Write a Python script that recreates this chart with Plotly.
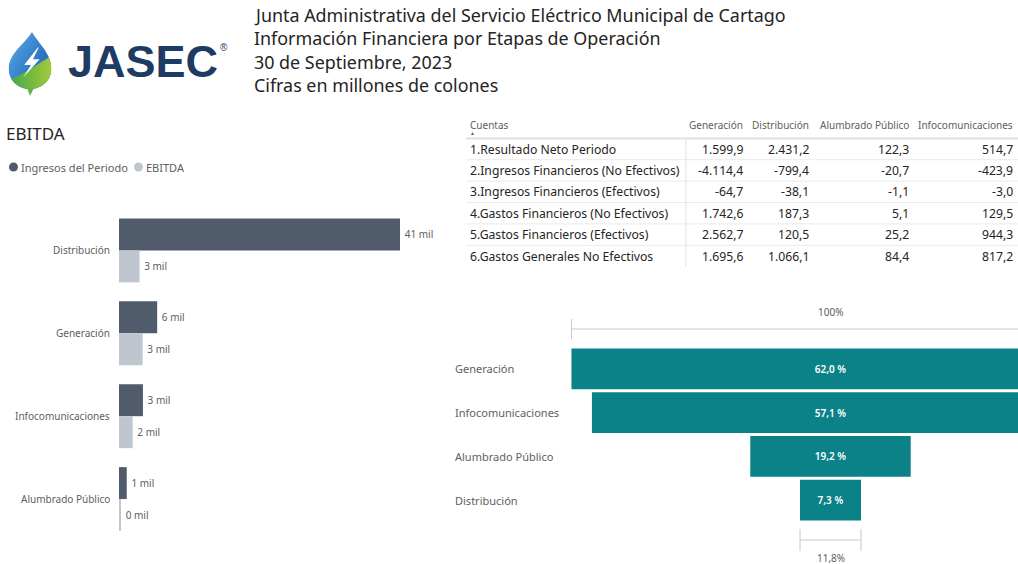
import base64
import plotly.graph_objects as go

W, H = 1018, 564

# ---------------- data (millones de colones) ----------------
segmentos = ["Distribución", "Generación", "Infocomunicaciones", "Alumbrado Público"]
ingresos_periodo = [40650, 5520, 3465, 1120]
ebitda = [2967.6, 3421.7, 1978.8, 215.2]

etapas_funnel = ["Generación", "Infocomunicaciones", "Alumbrado Público", "Distribución"]
margen_ebitda = [62.0, 57.1, 19.2, 7.3]

cuentas = [
    "1.Resultado Neto Periodo",
    "2.Ingresos Financieros (No Efectivos)",
    "3.Ingresos Financieros (Efectivos)",
    "4.Gastos Financieros (No Efectivos)",
    "5.Gastos Financieros (Efectivos)",
    "6.Gastos Generales No Efectivos",
]
columnas_tabla = ["Generación", "Distribución", "Alumbrado Público", "Infocomunicaciones"]
tabla_generacion = [1599.9, -4114.4, -64.7, 1742.6, 2562.7, 1695.6]
tabla_distribucion = [2431.2, -799.4, -38.1, 187.3, 120.5, 1066.1]
tabla_alumbrado = [122.3, -20.7, -1.1, 5.1, 25.2, 84.4]
tabla_infocom = [514.7, -423.9, -3.0, 129.5, 944.3, 817.2]

titulo = [
    "Junta Administrativa del Servicio Eléctrico Municipal de Cartago",
    "Información Financiera por Etapas de Operación",
    "30 de Septiembre, 2023",
    "Cifras en millones de colones",
]

# ---------------- styling ----------------
FONT = "Noto Sans, Open Sans, sans-serif"
DARK = "#505c6b"
LIGHT = "#c0c6cf"
TEAL = "#0a8288"
TXT = "#252423"
GRAY = "#605e5c"
RULE = "#c8c8c8"


def px(x):
    return x / W


def py(y):
    return 1 - y / H


def fmt_es(v):
    s = f"{v:,.1f}"
    return s.replace(",", "_").replace(".", ",").replace("_", ".")


def fmt_mil(v):
    return f"\u2009{round(v / 1000):.0f} mil"


fig = go.Figure()

# ---------------- EBITDA grouped bars ----------------
fig.add_trace(go.Bar(
    y=segmentos, x=ingresos_periodo, orientation="h", name="Ingresos del Periodo",
    marker=dict(color=DARK, line=dict(width=0)),
    text=[fmt_mil(v) for v in ingresos_periodo], textposition="outside",
    textfont=dict(family=FONT, size=10, color=GRAY), cliponaxis=False,
    xaxis="x", yaxis="y", showlegend=False, hoverinfo="skip",
))
fig.add_trace(go.Bar(
    y=segmentos, x=ebitda, orientation="h", name="EBITDA",
    marker=dict(color=LIGHT, line=dict(width=0)),
    text=[fmt_mil(v) for v in ebitda], textposition="outside",
    textfont=dict(family=FONT, size=10, color=GRAY), cliponaxis=False,
    xaxis="x", yaxis="y", showlegend=False, hoverinfo="skip",
))

# ---------------- funnel ----------------
fig.add_trace(go.Funnel(
    y=etapas_funnel, x=margen_ebitda, xaxis="x2", yaxis="y2",
    marker=dict(color=TEAL, line=dict(width=0)),
    texttemplate="%{x:.1f} %", textposition="inside", insidetextanchor="middle",
    textfont=dict(family=FONT, size=10, color="white", weight=600),
    connector=dict(visible=False), showlegend=False, hoverinfo="skip",
))

FUN_LEFT, FUN_CENTER, PX_PER_PCT = 566, 830.5, 61 / 7.3

annotations = []
shapes = []

# category labels for bars (right aligned)
for s in segmentos:
    annotations.append(dict(x=px(112), xref="paper", y=s, yref="y", text=s,
                            xanchor="right", yanchor="middle", showarrow=False,
                            font=dict(family=FONT, size=10, color=GRAY)))
# category labels for funnel (left aligned)
for s in etapas_funnel:
    annotations.append(dict(x=px(453), xref="paper", y=s, yref="y2", text=s,
                            xanchor="left", yanchor="middle", showarrow=False,
                            font=dict(family=FONT, size=11, color=GRAY)))

# funnel brackets: first stage = 100%, last stage relative to first
half_first = margen_ebitda[0] / 2
half_last = margen_ebitda[-1] / 2
shapes += [
    dict(type="line", xref="x2", yref="paper", x0=-half_first, x1=half_first,
         y0=py(329), y1=py(329), line=dict(color=RULE, width=1)),
    dict(type="line", xref="x2", yref="paper", x0=-half_first, x1=-half_first,
         y0=py(319), y1=py(339), line=dict(color=RULE, width=1)),
    dict(type="line", xref="x2", yref="paper", x0=-half_last, x1=half_last,
         y0=py(540), y1=py(540), line=dict(color=RULE, width=1)),
    dict(type="line", xref="x2", yref="paper", x0=-half_last, x1=-half_last,
         y0=py(529), y1=py(551), line=dict(color=RULE, width=1)),
    dict(type="line", xref="x2", yref="paper", x0=half_last, x1=half_last,
         y0=py(529), y1=py(551), line=dict(color=RULE, width=1)),
]
annotations.append(dict(x=0, xref="x2", y=py(312), yref="paper", text="100%",
                        showarrow=False, xanchor="center", yanchor="middle",
                        font=dict(family=FONT, size=10, color=GRAY)))
ratio = margen_ebitda[-1] / margen_ebitda[0] * 100
annotations.append(dict(x=0, xref="x2", y=py(558), yref="paper",
                        text=f"{ratio:.1f}%".replace(".", ","),
                        showarrow=False, xanchor="center", yanchor="middle",
                        font=dict(family=FONT, size=10, color=GRAY)))

# ---------------- header: logo + titles ----------------
logo_svg = """<svg xmlns='http://www.w3.org/2000/svg' viewBox='0 0 46 70'>
<defs>
<linearGradient id='b' x1='0' y1='0' x2='1' y2='1'>
<stop offset='0' stop-color='#5fb0ea'/><stop offset='0.6' stop-color='#2a74c0'/><stop offset='1' stop-color='#1b5aa5'/></linearGradient>
<linearGradient id='g' x1='0' y1='0' x2='1' y2='0'>
<stop offset='0' stop-color='#3fa34d'/><stop offset='1' stop-color='#a4cc3a'/></linearGradient>
<clipPath id='d'><path d='M25 2 C31 13 45 24 45 40 C45 52 35 61 23 61 C11 61 1 52 1 40 C1 24 19 13 25 2 Z'/></clipPath>
</defs>
<g clip-path='url(#d)'>
<rect width='46' height='70' fill='url(#b)'/>
<path d='M0 52 C15 46 30 36 46 26 L46 70 L0 70 Z' fill='url(#g)'/>
</g>
<path d='M20 60 L23 68 L27 60 Z' fill='#6ab04c'/>
<path d='M31 18 L17 36 L24 36 L16 49 L33 30 L26 30 L32 18 Z' fill='white'/>
</svg>"""
logo_uri = "data:image/svg+xml;base64," + base64.b64encode(logo_svg.encode()).decode()

images = [dict(source=logo_uri, xref="paper", yref="paper", x=px(7), y=py(30),
               sizex=px(53) - px(7), sizey=68 / H, xanchor="left", yanchor="top",
               sizing="contain", layer="above")]

annotations.append(dict(x=px(66), y=py(61), xref="paper", yref="paper",
                        text="<b>JASEC</b>", showarrow=False, xanchor="left", yanchor="middle",
                        font=dict(family="Liberation Sans, Arial, sans-serif", size=45, color="#1d3b63")))
annotations.append(dict(x=px(218), y=py(47), xref="paper", yref="paper",
                        text="®", showarrow=False, xanchor="left", yanchor="middle",
                        font=dict(family="Liberation Sans, Arial, sans-serif", size=10, color="#1d3b63")))

for i, line in enumerate(titulo):
    annotations.append(dict(x=px(251.5), y=py(15 + i * 23.4), xref="paper", yref="paper",
                            text=line, showarrow=False, xanchor="left", yanchor="middle",
                            font=dict(family=FONT, size=17.9, color=TXT)))

annotations.append(dict(x=px(4), y=py(133), xref="paper", yref="paper", text="EBITDA",
                        showarrow=False, xanchor="left", yanchor="middle",
                        font=dict(family=FONT, size=17, color=TXT)))

# legend: colored dots + series names
legend_items = [("Ingresos del Periodo", DARK, 13.5), ("EBITDA", LIGHT, 138.5)]
for name, color, cx in legend_items:
    shapes.append(dict(type="circle", xref="paper", yref="paper",
                       x0=px(cx - 4.5), x1=px(cx + 4.5), y0=py(167 + 4.5), y1=py(167 - 4.5),
                       fillcolor=color, line=dict(width=0)))
    annotations.append(dict(x=px(cx + 5), y=py(167), xref="paper", yref="paper",
                            text=name, showarrow=False, xanchor="left", yanchor="middle",
                            font=dict(family=FONT, size=11, color=GRAY)))

# ---------------- accounts table ----------------
ROW0, ROW_H = 149, 21.4
col_right = [745, 811, 911, 1015]
col_values = [tabla_generacion, tabla_distribucion, tabla_alumbrado, tabla_infocom]

annotations.append(dict(x=px(468), y=py(125), xref="paper", yref="paper", text="Cuentas",
                        showarrow=False, xanchor="left", yanchor="middle",
                        font=dict(family=FONT, size=10, color=GRAY)))
annotations.append(dict(x=px(468), y=py(133), xref="paper", yref="paper", text="▲",
                        showarrow=False, xanchor="left", yanchor="middle",
                        font=dict(family=FONT, size=5, color=GRAY)))
for name, xr in zip(columnas_tabla, col_right):
    annotations.append(dict(x=px(xr), y=py(125), xref="paper", yref="paper", text=name,
                            showarrow=False, xanchor="right", yanchor="middle",
                            font=dict(family=FONT, size=10, color=GRAY)))
for r, cuenta in enumerate(cuentas):
    yc = ROW0 + r * ROW_H
    annotations.append(dict(x=px(468), y=py(yc), xref="paper", yref="paper", text=cuenta,
                            showarrow=False, xanchor="left", yanchor="middle",
                            font=dict(family=FONT, size=12.2, color=TXT)))
    for vals, xr in zip(col_values, col_right):
        annotations.append(dict(x=px(xr), y=py(yc), xref="paper", yref="paper",
                                text=fmt_es(vals[r]), showarrow=False,
                                xanchor="right", yanchor="middle",
                                font=dict(family=FONT, size=12.2, color=TXT)))

shapes.append(dict(type="line", xref="paper", yref="paper", x0=px(466), x1=1,
                   y0=py(138.5), y1=py(138.5), line=dict(color="#e1e1e1", width=2)))
for r in range(1, len(cuentas)):
    yb = ROW0 - ROW_H / 2 + r * ROW_H
    shapes.append(dict(type="line", xref="paper", yref="paper", x0=px(466), x1=1,
                       y0=py(yb), y1=py(yb), line=dict(color="#eaeaea", width=1)))
shapes.append(dict(type="line", xref="paper", yref="paper", x0=px(686), x1=px(686),
                   y0=py(139.5), y1=py(ROW0 + (len(cuentas) - 0.5) * ROW_H),
                   line=dict(color="#e1e1e1", width=1)))

fig.update_layout(
    width=W, height=H,
    margin=dict(l=0, r=0, t=0, b=0),
    paper_bgcolor="white", plot_bgcolor="white",
    separators=",.",
    barmode="group", bargap=0.229, bargroupgap=0,
    funnelgap=0.07,
    xaxis=dict(domain=[px(119), px(445)], range=[0, (445 - 119) / 6.913 * 1000],
               visible=False, fixedrange=True),
    yaxis=dict(domain=[py(540.5), py(209)], autorange="reversed", visible=False,
               type="category", fixedrange=True),
    xaxis2=dict(domain=[px(FUN_LEFT), 1],
                range=[-(FUN_CENTER - FUN_LEFT) / PX_PER_PCT, (W - FUN_CENTER) / PX_PER_PCT],
                visible=False, fixedrange=True, anchor="y2"),
    yaxis2=dict(domain=[py(522), py(347)], autorange="reversed", visible=False,
                type="category", fixedrange=True, anchor="x2"),
    annotations=annotations, shapes=shapes, images=images,
    showlegend=False,
)

fig.write_html("out.html", config=dict(displayModeBar=False))
